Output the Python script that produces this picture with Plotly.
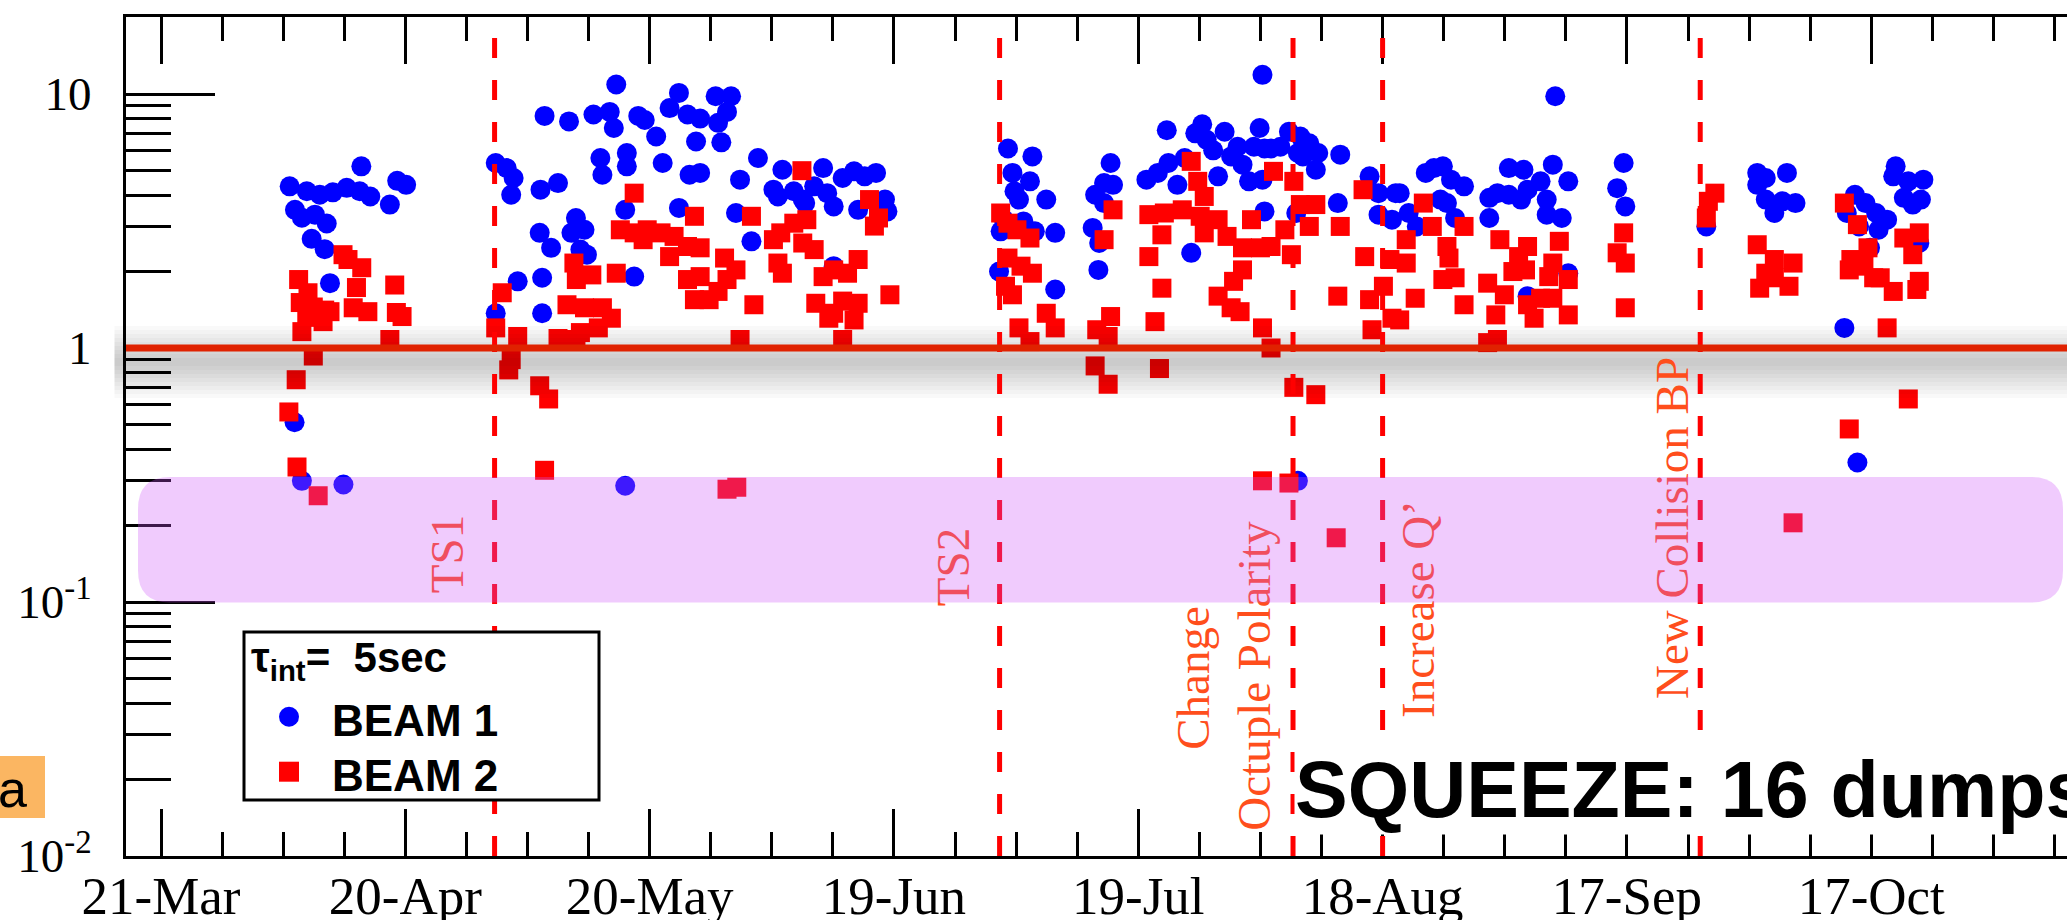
import datetime as dt
import plotly.graph_objects as go

# ---------------- data (days after 21-Mar, value) ----------------
BASE = dt.datetime(2011, 3, 21)

beam1_days = [
    15.8, 17.9, 19.5, 21.1, 22.8, 24.4, 25.7, 24.6, 28.1, 29.0, 30.1, 16.45, 17.3, 18.9, 20.35, 18.5, 20.1, 20.75,
    16.4, 17.3, 22.4, 57.0,
    41.1, 42.45, 43.3, 43.0, 46.6, 48.75, 47.1, 50.1, 53.1, 55.1, 55.9, 55.6, 58.6, 59.4, 60.8, 62.45, 63.6, 64.65,
    65.7, 53.95, 54.2, 57.2, 57.2, 61.6, 64.9, 63.6, 57.0, 50.95, 52.0, 50.4, 46.5, 47.9, 51.5, 52.3, 46.8, 43.8,
    58.1, 41.1, 46.8,
    68.1, 70.0, 69.5, 68.4, 66.2, 68.8, 66.2, 71.1, 73.3, 76.3, 75.2, 75.75, 77.7, 78.8, 81.3, 80.2, 81.8, 82.6,
    83.7, 85.1, 86.4, 87.8, 88.9, 89.2, 85.6, 70.6, 72.5, 79.1, 82.6,
    104.0, 107.0, 104.55, 106.7, 104.8, 105.35, 108.7, 103.5, 105.9, 103.1, 107.3, 109.8, 102.9, 109.8, 116.6,
    115.8, 116.9, 114.7, 115.8, 114.4, 115.2, 115.1, 123.5, 121.0, 122.4, 123.7, 124.8, 127.0, 127.85, 128.4,
    129.2, 125.7, 129.8, 130.6, 131.4, 132.2, 132.8, 133.6, 134.9, 134.2, 135.5, 135.25, 135.25, 136.3, 137.45,
    138.5, 139.9, 141.0, 142.1, 140.2, 141.8, 139.6, 144.8, 144.5, 135.5, 139.4, 126.5, 148.4, 149.5, 149.5,
    151.15, 151.6, 139.6,
    152.1, 153.2, 154.2, 155.3, 156.3, 157.4, 158.4, 160.0, 157.1, 158.9, 157.9, 163.1, 164.1, 165.5, 163.1,
    165.5, 167.3, 167.0, 167.8, 169.4, 170.15, 170.15, 170.9, 172.0, 172.8, 171.2, 167.8, 172.8, 179.6, 178.8,
    179.8, 189.75, 196.0, 197.05, 196.0, 197.05, 198.1, 199.65, 199.1, 200.7, 208.0, 209.3, 207.0, 208.5, 210.6,
    211.95, 210.9, 209.85, 213.0, 212.7, 214.55, 216.4, 214.0, 216.1, 215.1, 215.9, 206.7, 208.3,
]
beam1_vals = [
    4.33, 4.14, 4.01, 4.1, 4.27, 4.14, 3.95, 5.19, 3.67, 4.55, 4.39, 3.5, 3.26, 3.35, 3.09, 2.69, 2.45, 1.8,
    0.51, 0.30, 0.29, 0.287,
    5.35, 5.11, 4.67, 4.01, 4.2, 4.46, 8.2, 7.8, 8.3, 8.5, 10.9, 7.35, 8.2, 7.9, 6.8, 8.8, 10.1, 8.3,
    6.5, 5.6, 4.81, 5.86, 5.19, 5.35, 4.81, 3.56, 3.5, 3.25, 2.92, 2.84, 2.84, 2.48, 2.44, 2.33, 1.89, 1.83,
    1.91, 1.37, 1.37,
    9.8, 9.8, 8.5, 7.7, 8.0, 6.45, 4.89, 4.6, 5.6, 5.03, 4.2, 3.95, 4.14, 3.84, 5.11, 4.33, 4.07, 3.61,
    4.67, 4.96, 4.74, 4.89, 3.84, 3.45, 3.5, 3.4, 2.63, 3.72, 2.1,
    6.1, 5.68, 4.89, 4.53, 4.14, 3.84, 3.84, 3.2, 3.15, 2.88, 2.88, 2.84, 2.0, 1.7, 5.35,
    4.46, 4.39, 4.01, 3.72, 2.97, 2.59, 2.03, 7.2, 4.6, 4.89, 5.35, 4.39, 7.0, 7.6, 6.6,
    6.0, 5.6, 4.74, 7.1, 5.68, 6.2, 5.27, 4.53, 7.35, 6.2, 6.1, 4.6, 11.9, 6.1, 6.2,
    7.1, 6.8, 6.4, 5.86, 5.68, 5.03, 5.86, 5.77, 3.72, 3.45, 3.4, 2.37, 4.74, 4.07, 3.35,
    3.2, 4.07, 0.30,
    4.07, 3.4, 3.01, 4.89, 5.11, 5.19, 4.6, 4.33, 3.84, 3.25, 3.72, 3.9, 4.07, 4.01, 3.25,
    5.11, 5.03, 3.84, 4.2, 4.53, 3.84, 3.35, 5.27, 3.25, 4.53, 9.8, 1.6, 1.97, 5.35, 4.26,
    3.61, 3.01, 4.89, 4.67, 4.39, 3.84, 3.4, 4.89, 3.78, 3.72, 4.01, 3.72, 3.4, 3.01, 3.4,
    3.2, 2.92, 2.48, 5.19, 4.74, 4.53, 4.6, 3.9, 3.84, 3.67, 2.59, 1.2, 0.354,
]

beam2_days = [
    16.9, 18.05, 17.1, 18.7, 20.1, 20.75, 17.9, 19.9, 17.3, 18.7, 16.6, 22.35, 22.96, 24.65, 24.0, 23.6, 25.4,
    28.7, 28.9, 29.6, 28.1, 15.7, 16.7, 19.3,
    41.9, 41.1, 43.8, 43.0, 42.7, 46.5, 47.6, 48.75, 50.95, 58.1, 55.9, 50.7, 51.0, 52.9, 49.85, 52.0, 54.2,
    55.3, 53.7, 51.5, 56.4, 58.1, 59.7, 59.2, 61.4, 63.0, 62.45, 64.65, 65.5, 64.65, 65.5, 47.1,
    78.7, 72.5, 87.0, 88.1, 87.6, 79.3, 77.7, 76.1, 75.2, 66.2, 69.2, 70.6, 69.5, 66.2, 75.75, 76.3, 78.8,
    80.2, 81.3, 82.6, 84.3, 85.6, 67.3, 68.4, 72.8, 80.4, 82.6, 83.7, 85.6, 85.1, 82.0, 89.5, 71.1, 83.7,
    69.5, 70.7,
    103.1, 104.0, 105.1, 106.7, 104.0, 105.6, 107.0, 103.7, 104.55, 108.7, 109.8, 105.35, 106.7, 116.9, 115.8,
    116.6, 114.9, 116.3, 114.7, 116.3, 122.6, 121.3, 122.9, 122.05, 121.3, 122.9, 123.2, 125.4, 126.5, 127.3,
    128.1, 127.6, 128.1, 129.8, 130.9, 132.8, 133.9, 135.0, 136.6, 136.3, 138.0, 138.8, 139.1, 139.9, 141.0,
    141.8, 144.8, 132.8, 131.7, 129.8, 131.4, 132.5, 135.25, 136.3, 139.1, 141.8, 144.5, 147.6, 147.8, 148.4,
    148.7, 150.1, 151.15, 150.9, 135.25, 138.5, 144.3,
    155.0, 152.9, 156.1, 160.0, 152.9, 157.9, 158.15, 157.4, 158.9, 154.0, 152.1, 160.0, 162.9, 164.4, 167.8,
    166.7, 166.0, 167.55, 164.95, 163.9, 168.6, 167.8, 169.4, 170.4, 170.9, 171.7, 172.8, 172.8, 170.9, 164.1,
    162.9, 179.6, 178.8, 179.8, 179.8, 190.8, 190.0, 189.75, 196.0, 198.1, 200.4, 197.05, 198.1, 196.3, 199.9,
    206.7, 208.3, 209.6, 207.5, 207.3, 209.1, 210.3, 211.1, 212.7, 214.0, 215.9, 215.1, 215.9, 215.6, 211.95,
    214.55, 207.3, 200.4,
]
beam2_vals = [
    1.86, 1.65, 1.51, 1.45, 1.41, 1.39, 1.32, 1.27, 1.16, 0.93, 0.75, 2.33, 2.23, 2.07, 1.73, 1.44, 1.39,
    1.77, 1.38, 1.33, 1.08, 0.56, 0.34, 0.262,
    1.65, 1.2, 1.11, 0.9, 0.82, 0.71, 0.63, 1.09, 1.08, 4.07, 1.97, 2.16, 1.86, 1.94, 1.48, 1.44, 1.44,
    1.31, 1.2, 1.15, 2.92, 2.84, 2.92, 2.67, 2.84, 2.75, 2.29, 2.51, 3.3, 1.86, 1.55, 0.33,
    4.99, 3.3, 3.84, 3.25, 3.02, 3.2, 3.1, 2.84, 2.67, 2.48, 2.26, 2.03, 1.86, 1.91, 2.16, 1.97, 2.59,
    2.44, 1.91, 2.03, 1.97, 2.23, 1.55, 1.67, 1.48, 1.5, 1.37, 1.53, 1.5, 1.29, 1.31, 1.62, 1.08, 1.08,
    0.278, 0.283,
    3.4, 3.1, 2.92, 2.71, 2.26, 2.1, 1.97, 1.75, 1.62, 1.37, 1.2, 1.2, 1.06, 3.5, 2.67,
    1.33, 1.18, 1.11, 0.85, 0.72, 0.83, 2.29, 1.72, 1.27, 3.35, 2.79, 3.4, 3.5, 5.43, 4.53,
    3.95, 3.3, 2.84, 3.2, 2.75, 2.48, 3.2, 2.48, 4.96, 2.51, 2.92, 2.33, 4.53, 3.67, 3.01,
    3.67, 3.01, 2.03, 1.83, 1.6, 1.44, 1.39, 1.2, 1.0, 0.70, 0.655, 1.6, 4.2, 2.29, 1.55,
    1.18, 1.75, 1.31, 2.23, 0.30, 0.294, 0.179,
    3.72, 2.67, 3.01, 3.01, 2.16, 2.51, 2.26, 1.86, 1.89, 1.57, 1.29, 1.48, 1.8, 2.67, 2.51,
    2.29, 2.0, 2.03, 1.62, 1.35, 1.31, 1.48, 1.57, 1.91, 2.16, 2.63, 1.86, 1.35, 1.57, 1.08,
    1.05, 2.84, 2.37, 2.16, 1.44, 4.07, 3.78, 3.25, 2.55, 2.23, 2.16, 1.97, 1.89, 1.72, 1.75,
    3.72, 3.06, 2.48, 2.23, 2.03, 2.1, 1.89, 1.89, 1.67, 2.71, 2.84, 2.33, 1.83, 1.7, 1.2,
    0.63, 0.48, 0.205,
]

major_tick_days = [0, 30, 60, 90, 120, 150, 180, 210]
minor_tick_days = [7.5, 15, 22.5, 37.5, 45, 52.5, 67.5, 75, 82.5, 97.5, 105, 112.5, 127.5, 135, 142.5,
                   157.5, 165, 172.5, 187.5, 195, 202.5, 217.5, 225, 232.5]
y_major = [0.01, 0.1, 1, 10]
y_major_text = ["10<sup>-2</sup>", "10<sup>-1</sup>", "1", "10"]
y_minor = [0.02, 0.03, 0.04, 0.05, 0.06, 0.07, 0.08, 0.09,
           0.2, 0.3, 0.4, 0.5, 0.6, 0.7, 0.8, 0.9,
           2, 3, 4, 5, 6, 7, 8, 9]

event_days = [40.96, 102.97, 139.0, 150.0, 189.0]
threshold = 1.0

# ---------------- geometry ----------------
W, H = 2067, 920
L, T, B = 126, 17, 64
PW, PH = W - L, H - T - B
PX_PER_DAY = 8.144
X0_DAY = -(161 - L) / PX_PER_DAY
X1_DAY = X0_DAY + PW / PX_PER_DAY
Y_RANGE = [-2, -2 + PH / 254.0]


def d2t(d):
    return BASE + dt.timedelta(days=d)


def xp(px):
    return (px - L) / PW


def yp(py):
    return (H - B - py) / PH


ORANGE = "rgb(255,78,28)"
SERIF = "Liberation Serif"
SANS = "Liberation Sans"

fig = go.Figure()
fig.add_trace(go.Scatter(
    x=[d2t(d) for d in beam1_days], y=beam1_vals, mode="markers", name="BEAM 1",
    marker=dict(symbol="circle", size=20, color="rgb(0,0,255)", line=dict(width=0)),
))
fig.add_trace(go.Scatter(
    x=[d2t(d) for d in beam2_days], y=beam2_vals, mode="markers", name="BEAM 2",
    marker=dict(symbol="square", size=19, color="rgb(255,0,0)", line=dict(width=0)),
))

shapes = []
# soft grey shadow around threshold line (mostly below it)
for hw in range(4, 40, 4):
    shapes.append(dict(type="rect", xref="paper", yref="paper", x0=-0.006, x1=1,
                       y0=yp(362 + hw), y1=yp(362 - hw), line=dict(width=0),
                       fillcolor="rgba(0,0,0,0.024)", layer="above"))
# dashed event lines
for d in event_days:
    shapes.append(dict(type="line", xref="x", yref="y", x0=d2t(d), x1=d2t(d), y0=0.01, y1=18,
                       line=dict(color="rgb(255,0,0)", width=5, dash="20px,22px"), layer="above"))
# vertical event labels (drawn below the translucent band)
labels = [("TS1", 442, 554), ("TS2", 948, 567), ("Change", 1188, 678), ("Octuple Polarity", 1249, 676),
          ("Increase Q\u2019", 1413, 609), ("New Collision BP", 1667, 528)]
for txt, cx, cy in labels:
    shapes.append(dict(type="rect", xref="paper", yref="paper", x0=xp(cx - 20), x1=xp(cx + 20),
                       y0=yp(cy + 20), y1=yp(cy - 20), line=dict(width=0), fillcolor="rgba(0,0,0,0)",
                       layer="above",
                       label=dict(text=txt, textangle=-90, textposition="middle center",
                                  font=dict(family=SERIF, size=47, color=ORANGE))))
# translucent purple rounded band
bx0, bx1, by0, by1 = xp(138), xp(2063), yp(602.5), yp(477)
rx, ry = 32 / PW, 32 / PH
band_path = (f"M {bx0 + rx},{by1} L {bx1 - rx},{by1} Q {bx1},{by1} {bx1},{by1 - ry} "
             f"L {bx1},{by0 + ry} Q {bx1},{by0} {bx1 - rx},{by0} L {bx0 + rx},{by0} "
             f"Q {bx0},{by0} {bx0},{by0 + ry} L {bx0},{by1 - ry} Q {bx0},{by1} {bx0 + rx},{by1} Z")
shapes.append(dict(type="path", xref="paper", yref="paper", path=band_path,
                   fillcolor="rgb(205,83,248)", opacity=0.3, line=dict(width=0), layer="above"))
# threshold line
shapes.append(dict(type="line", xref="paper", yref="y", x0=0, x1=1, y0=threshold, y1=threshold,
                   line=dict(color="rgb(224,34,0)", width=7), layer="above"))
# legend box and symbols
shapes.append(dict(type="rect", xref="paper", yref="paper", x0=xp(244), x1=xp(599), y0=yp(800), y1=yp(632),
                   line=dict(color="black", width=3), fillcolor="white", layer="above"))
shapes.append(dict(type="circle", xref="paper", yref="paper", xsizemode="pixel", ysizemode="pixel",
                   xanchor=xp(289), yanchor=yp(716.7), x0=-10, x1=10, y0=-10, y1=10,
                   fillcolor="rgb(0,0,255)", line=dict(width=0), layer="above"))
shapes.append(dict(type="rect", xref="paper", yref="paper", xsizemode="pixel", ysizemode="pixel",
                   xanchor=xp(289), yanchor=yp(771.7), x0=-10, x1=10, y0=-10, y1=10,
                   fillcolor="rgb(255,0,0)", line=dict(width=0), layer="above"))
# orange tag at far left
shapes.append(dict(type="rect", xref="paper", yref="paper", x0=xp(0), x1=xp(45), y0=yp(818), y1=yp(756),
                   fillcolor="rgb(251,182,98)", line=dict(width=0), layer="above"))

annotations = [
    dict(text="<b>\u03c4<sub>int</sub>=  5sec</b>", xref="paper", yref="paper", x=xp(249), y=yp(660),
         xanchor="left", yanchor="middle", showarrow=False, font=dict(family=SANS, size=42, color="black")),
    dict(text="<b>BEAM 1</b>", xref="paper", yref="paper", x=xp(330), y=yp(720), xanchor="left",
         yanchor="middle", showarrow=False, font=dict(family=SANS, size=44, color="black")),
    dict(text="<b>BEAM 2</b>", xref="paper", yref="paper", x=xp(330), y=yp(775), xanchor="left",
         yanchor="middle", showarrow=False, font=dict(family=SANS, size=44, color="black")),
    dict(text="<b>SQUEEZE: 16 dumps</b>", xref="paper", yref="paper", x=xp(1294), y=yp(789),
         xanchor="left", yanchor="middle", showarrow=False, bgcolor="white", borderpad=0,
         font=dict(family=SANS, size=79, color="black")),
    dict(text="a", xref="paper", yref="paper", x=xp(12), y=yp(789), xanchor="center", yanchor="middle",
         showarrow=False, font=dict(family=SANS, size=52, color="black")),
]

fig.update_layout(
    width=W, height=H, autosize=False,
    margin=dict(l=L, r=0, t=T, b=B, pad=0, autoexpand=False),
    paper_bgcolor="white", plot_bgcolor="white",
    showlegend=False,
    shapes=shapes, annotations=annotations,
    xaxis=dict(
        type="date", range=[d2t(X0_DAY), d2t(X1_DAY)], automargin=False,
        tickmode="array", tickvals=[d2t(d) for d in major_tick_days], tickformat="%d-%b",
        ticks="inside", ticklen=47, tickwidth=2.5, tickcolor="black",
        showline=True, linewidth=3, linecolor="black", mirror="ticks",
        showgrid=False, zeroline=False,
        tickfont=dict(family=SERIF, size=53, color="black"), ticklabelstandoff=-9,
        minor=dict(tickmode="array", tickvals=[d2t(d) for d in minor_tick_days], ticks="inside",
                   ticklen=24, tickwidth=2.5, tickcolor="black", showgrid=False),
    ),
    yaxis=dict(
        type="log", range=Y_RANGE, autorange=False, automargin=False,
        tickmode="array", tickvals=y_major, ticktext=y_major_text,
        ticks="inside", ticklen=89, tickwidth=2.5, tickcolor="black",
        showline=True, linewidth=3, linecolor="black", mirror=False,
        showgrid=False, zeroline=False,
        tickfont=dict(family=SERIF, size=47, color="black"), ticklabelstandoff=22,
        minor=dict(tickmode="array", tickvals=y_minor, ticks="inside", ticklen=45, tickwidth=2.5,
                   tickcolor="black", showgrid=False),
    ),
    yaxis2=dict(
        type="log", range=Y_RANGE, autorange=False, automargin=False,
        overlaying="y", side="right", anchor="x",
        tickmode="array", tickvals=y_major, ticks="inside", ticklen=69, tickwidth=2.5, tickcolor="black",
        showticklabels=False, showline=False, showgrid=False, zeroline=False,
        minor=dict(tickmode="array", tickvals=y_minor, ticks="inside", ticklen=26, tickwidth=2.5,
                   tickcolor="black", showgrid=False),
    ),
)

fig.write_html("out.html", config={"displayModeBar": False},
               post_script="document.body.style.margin='0';document.body.style.overflow='hidden';")
